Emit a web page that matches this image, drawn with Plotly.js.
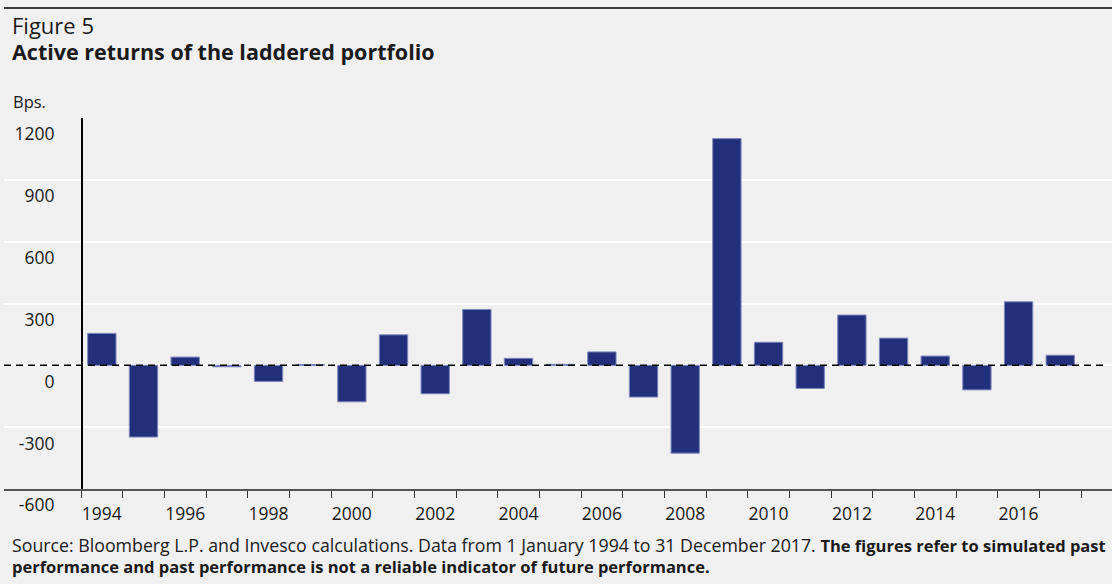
<!DOCTYPE html>
<html>
<head>
<meta charset="utf-8">
<script src="https://cdn.plot.ly/plotly-3.0.1.min.js"></script>
<style>html,body{margin:0;padding:0;background:#F0F0F0;}#chart{width:1112px;height:584px;}</style>
</head>
<body>
<div id="chart"></div>
<script>
// Data
const years = [1994,1995,1996,1997,1998,1999,2000,2001,2002,2003,2004,2005,2006,2007,2008,2009,2010,2011,2012,2013,2014,2015,2016,2017];
const activeReturns = [155,-348,40,-7,-78,4,-177,148,-138,271,34,5,65,-154,-426,1100,112,-112,244,132,45,-119,308,49];
const xTickYears = [1994,1996,1998,2000,2002,2004,2006,2008,2010,2012,2014,2016];
const xTickLabels = ["1994","1996","1998","2000","2002","2004","2006","2008","2010","2012","2014","2016"];
const yTickVals = [-600,-300,0,300,600,900,1200];
const yTickLabels = ["-600","-300","0","300","600","900","1200"];

const boundaries = years.map(y => y - 0.5).concat([years[years.length-1] + 0.5]);

const FONT = "Open Sans, Noto Sans, sans-serif";
const TXT = "#1a1a1a";

const W = 1112, H = 584;
const ml = 4, mr = 0, mt = 118, mb = 95;
const plotH = H - mt - mb;
const py = px => (H - mb - px) / plotH;   // pixel row -> paper y
const pxX = px => (px - ml) / (W - ml - mr); // pixel col -> paper x

const trace = {
  type: 'bar',
  x: years,
  y: activeReturns,
  marker: {color: '#22307B', line: {color: '#7C86BC', width: 1}},
  hoverinfo: 'x+y'
};

const layout = {
  width: W, height: H,
  margin: {l: ml, r: mr, t: mt, b: mb, pad: 0},
  paper_bgcolor: '#F0F0F0',
  plot_bgcolor: '#F0F0F0',
  showlegend: false,
  bargap: 0.32,
  font: {family: FONT, color: TXT},
  title: {
    text: 'Figure 5',
    font: {family: FONT, size: 22, color: TXT},
    x: 12 / W, xref: 'container', xanchor: 'left',
    y: 1 - 19 / H, yref: 'container', yanchor: 'top'
  },
  xaxis: {
    type: 'linear',
    range: [1993.5 - 77 / 41.67, 1993.5 + 1031 / 41.67],
    tickmode: 'array',
    tickvals: xTickYears,
    ticktext: xTickLabels,
    ticks: '',
    ticklabelstandoff: 8,
    tickfont: {family: FONT, size: 17.5, color: TXT},
    showgrid: false,
    zeroline: false,
    showline: true,
    linecolor: '#555555',
    linewidth: 2,
    minor: {tickmode: 'array', tickvals: boundaries, ticks: 'outside', ticklen: 7, tickcolor: '#333333', tickwidth: 1, showgrid: false},
    fixedrange: true
  },
  yaxis: {
    range: [-600, 1200],
    anchor: 'free',
    position: pxX(81),
    tickmode: 'array',
    tickvals: yTickVals,
    ticktext: yTickLabels,
    ticks: '',
    ticklabelposition: 'outside bottom',
    ticklabelstandoff: 23,
    ticklabelshift: 4,
    tickfont: {family: FONT, size: 17.5, color: TXT},
    showgrid: true,
    gridcolor: '#FFFFFF',
    gridwidth: 2,
    zeroline: false,
    showline: true,
    linecolor: '#000000',
    linewidth: 1.5,
    fixedrange: true
  },
  shapes: [
    {type: 'line', xref: 'paper', yref: 'y', x0: 0, x1: pxX(1105), y0: 0, y1: 0,
     line: {color: '#000000', width: 1.5, dash: '7px,5px'}, layer: 'above'},
    {type: 'line', xref: 'paper', yref: 'paper', x0: 0, x1: 1, y0: py(8), y1: py(8),
     line: {color: '#3a3a3a', width: 2}}
  ],
  annotations: [
    {text: '<b>Active returns of the laddered portfolio</b>', xref: 'paper', yref: 'paper',
     x: pxX(12), y: py(35), xanchor: 'left', yanchor: 'top', xshift: -2, showarrow: false,
     font: {family: FONT, size: 21.5, color: TXT}},
    {text: 'Bps.', xref: 'paper', yref: 'paper', x: pxX(12), y: py(101), xanchor: 'left', yanchor: 'middle',
     xshift: -1, showarrow: false, font: {family: FONT, size: 16.5, color: TXT}},
    {text: '<span style="font-size:17.75px">Source: Bloomberg L.P. and Invesco calculations. Data from 1 January 1994 to 31 December 2017. </span><b>The figures refer to simulated past</b><br><b>performance and past performance is not a reliable indicator of future performance.</b>',
     xref: 'paper', yref: 'paper', x: pxX(12), y: py(531), xanchor: 'left', yanchor: 'top', align: 'left',
     xshift: -2, showarrow: false, font: {family: FONT, size: 16.5, color: TXT}}
  ]
};

Plotly.newPlot('chart', [trace], layout, {displayModeBar: false, staticPlot: true});
</script>
</body>
</html>
